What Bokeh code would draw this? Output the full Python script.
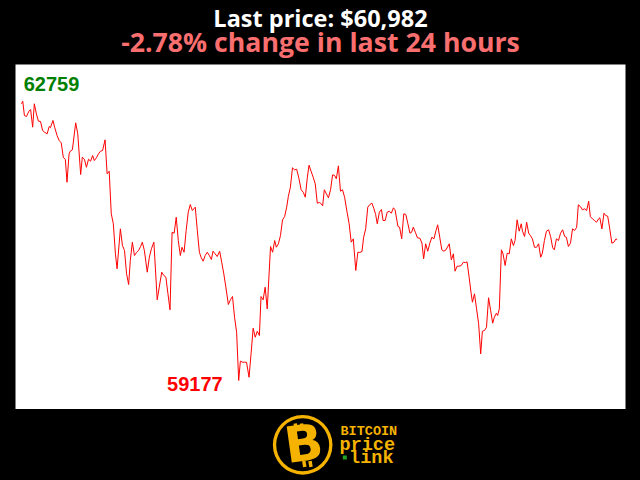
from bokeh.plotting import figure
from bokeh.layouts import column
from bokeh.models import Range1d
from bokeh.core.properties import value
from bokeh.embed import file_html
from bokeh.resources import INLINE

# ---- data (minutes since start of the 24h window, BTC price in USD) ----
minutes = [0,3,7,12,18,22,27,31,36,41,
46,51,56,62,67,70,76,80,86,91,
96,101,106,110,115,118,123,131,136,143,
147,152,157,162,167,172,176,181,186,191,
196,202,207,212,217,222,227,231,239,244,
249,254,259,263,268,273,278,283,288,292,
297,304,309,314,320,328,333,339,344,349,
354,359,364,369,374,379,384,388,393,398,
403,408,413,420,425,430,434,439,444,449,
454,459,463,468,473,479,484,489,494,500,
505,510,515,520,525,529,534,539,544,550,
555,560,565,570,575,579,584,589,594,602,
607,612,616,621,626,631,636,641,645,650,
655,660,665,670,676,681,686,691,695,700,
705,710,715,720,723,728,732,737,742,747,
752,757,761,766,771,776,781,787,792,797,
802,808,813,818,823,827,832,837,842,847,
852,856,860,865,870,874,879,884,889,894,
899,903,910,914,919,924,929,934,939,943,
947,952,957,963,968,972,977,982,987,992,
997,1002,1006,1011,1016,1021,1026,1034,1039,1044,
1048,1053,1058,1063,1068,1073,1077,1082,1087,1090,
1095,1100,1105,1110,1114,1119,1124,1129,1134,1139,
1143,1148,1151,1155,1160,1164,1169,1174,1179,1184,
1189,1193,1198,1203,1208,1211,1216,1221,1226,1230,
1235,1240,1245,1250,1255,1259,1264,1269,1274,1279,
1284,1288,1293,1298,1303,1308,1313,1317,1322,1327,
1332,1337,1342,1346,1351,1356,1361,1366,1371,1375,
1380,1385,1390,1395,1398,1403,1408,1412,1417,1422,
1427,1432,1437,1440]

prices = [62726,62759,62576,62563,62631,62653,62426,62726,62597,62503,
62500,62383,62361,62341,62435,62420,62512,62426,62319,62255,
62226,62041,62011,61720,62084,62118,62136,62482,62341,61819,
62041,62015,61912,62015,61990,62063,61998,62033,62084,62118,
62127,62264,61828,61861,61315,61187,60802,60610,61122,60908,
60844,60545,60408,60716,60951,60780,60819,60844,60896,60951,
60844,60566,60758,60866,60951,60212,60374,60566,60524,60502,
60289,60084,61079,61066,61271,60972,60780,60886,60822,61101,
61335,61434,61357,61400,61101,60822,60758,60707,60780,60822,
60780,60729,60835,60802,60767,60835,60694,60545,60374,60152,
60212,60254,59989,59796,59177,59425,59412,59412,59410,59219,
59527,59848,59732,59809,59754,60254,60212,60374,60096,60896,
60822,60972,60886,60930,61037,61238,61280,61400,61537,61656,
61905,61879,61887,61784,61623,61592,61528,61784,61938,61861,
61784,61700,61451,61460,61451,61418,61623,61571,61520,61623,
61815,61806,61764,61930,61605,61623,61528,61335,61187,60951,
60994,60588,60822,60820,60831,61015,61122,61400,61434,61451,
61379,61306,61187,61335,61370,61229,61229,61335,61348,61323,
61392,61366,61152,61143,60994,61315,61306,61187,61066,61079,
61143,61079,61007,61002,60938,60738,60930,60835,60938,61015,
60994,61101,61174,61015,60853,60835,60853,60930,60725,60802,
60579,60643,60643,60652,60694,60690,60699,60502,60289,60181,
60289,60096,59904,59519,59809,59818,59860,60238,60075,59912,
59989,60040,60011,60096,60853,60802,60652,60810,60802,60994,
60908,60972,61238,61092,61187,61092,61024,61207,61066,61037,
60994,60886,60886,60930,60758,60810,60972,61092,61110,61024,
60879,60853,60994,60972,61066,61110,61024,61015,60896,60938,
61122,61101,61143,61430,61408,61366,61379,61357,61477,61280,
61251,61229,61207,61251,61264,61122,61323,61293,61284,61122,
60938,60951,60994,60982]

title_lines = ["Last price: $60,982", "-2.78% change in last 24 hours"]
logo_lines = ["BITCOIN", "price", "link"]

W = 640
TOP_H, MAIN_H, BOT_H = 64, 345, 71
GOLD = "#F5B300"

# ---- title block ----
top = figure(width=W, height=TOP_H, x_range=Range1d(0, W), y_range=Range1d(0, TOP_H),
             output_backend="svg", toolbar_location=None,
             x_axis_location=None, y_axis_location=None, min_border=0,
             background_fill_color="black", border_fill_color="black", outline_line_color=None)
top.grid.grid_line_color = None
top.text(x=[W / 2], y=[46.5], text=[title_lines[0]], text_font=value("Open Sans"),
         text_font_style="bold", text_font_size="23.5px", text_color="white",
         text_align="center", text_baseline="alphabetic")
top.text(x=[W / 2], y=[23], text=[title_lines[1]], text_font=value("Open Sans"),
         text_font_style="bold", text_font_size="26.7px", text_color="#F96E6E",
         text_align="center", text_baseline="alphabetic")

# ---- main chart ----
p = figure(width=W, height=MAIN_H, x_range=Range1d(-14.5, 1460), y_range=Range1d(58805, 63230),
           output_backend="svg", toolbar_location=None,
           x_axis_location=None, y_axis_location=None,
           min_border=0, min_border_left=15, min_border_right=15,
           background_fill_color="white", border_fill_color="black", outline_line_color=None)
p.grid.grid_line_color = None
p.line(minutes, prices, line_color="red", line_width=1)

i_max = prices.index(max(prices))
i_min = prices.index(min(prices))
p.text(x=[minutes[i_max]], y=[prices[i_max]], text=[str(prices[i_max])],
       text_font=value("Liberation Sans"), text_font_style="bold", text_font_size="20px",
       text_color="green", text_align="left", text_baseline="alphabetic",
       x_offset=1, y_offset=-17)
p.text(x=[minutes[i_min]], y=[prices[i_min]], text=[str(prices[i_min])],
       text_font=value("Liberation Sans"), text_font_style="bold", text_font_size="20px",
       text_color="red", text_align="right", text_baseline="alphabetic",
       x_offset=-16, y_offset=4)

# ---- logo block ----
bot = figure(width=W, height=BOT_H, x_range=Range1d(0, W), y_range=Range1d(0, BOT_H),
             output_backend="svg", toolbar_location=None,
             x_axis_location=None, y_axis_location=None, min_border=0,
             background_fill_color="black", border_fill_color="black", outline_line_color=None)
bot.grid.grid_line_color = None
cx, cy = 301.3, 35.7
bot.annulus(x=[cx], y=[cy], inner_radius=27.8, outer_radius=31.3, fill_color=GOLD, line_color=None)
bot.text(x=[cx + 1], y=[cy + 1], text=["B"], text_font=value("DejaVu Sans"), text_font_style="bold",
         text_font_size="50px", text_color=GOLD, text_align="center", text_baseline="middle",
         angle=0.14)
bot.segment(x0=[294.5, 301.0, 302.5, 309.0], y0=[51.5, 51.5, 19.5, 19.5],
            x1=[293.5, 300.0, 303.5, 310.0], y1=[57.0, 57.0, 13.5, 13.5],
            line_color=GOLD, line_width=3.5)
bot.text(x=[341], y=[49], text=[logo_lines[0]], text_font=value("Liberation Mono"),
         text_font_style="bold", text_font_size="13.5px", text_color=GOLD,
         text_align="left", text_baseline="alphabetic")
bot.text(x=[340], y=[35.5], text=[logo_lines[1]], text_font=value("Liberation Mono"),
         text_font_style="bold", text_font_size="18.5px", text_color=GOLD,
         text_align="left", text_baseline="alphabetic")
bot.text(x=[350], y=[22.5], text=[logo_lines[2]], text_font=value("Liberation Mono"),
         text_font_style="bold", text_font_size="18.5px", text_color=GOLD,
         text_align="left", text_baseline="alphabetic")
bot.scatter(x=[345.5], y=[23], size=4, marker="square", fill_color="#22A022", line_color=None)

layout = column(top, p, bot, spacing=0)
try:
    from bokeh.models import GlobalInlineStyleSheet
    layout.stylesheets = [GlobalInlineStyleSheet(css="html, body { background: #000000; }")]
except Exception:
    pass

open("out.html", "w").write(file_html(layout, INLINE))
